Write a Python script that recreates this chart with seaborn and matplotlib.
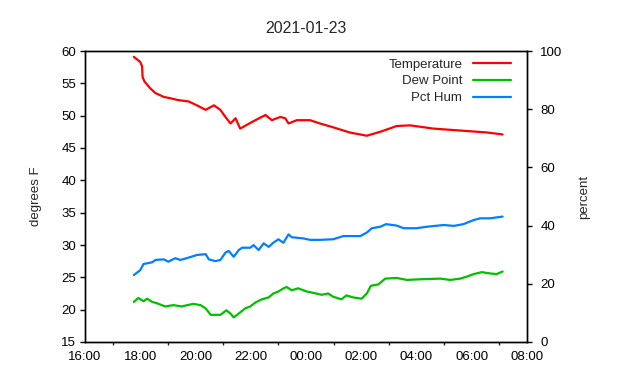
import pandas as pd
import matplotlib
matplotlib.use("Agg")
import matplotlib.pyplot as plt
import matplotlib.dates as mdates
import seaborn as sns

# readings (night of 2021-01-23 -> 24)
temp_times = ["17:46", "18:00", "18:04", "18:05", "18:09", "18:22", "18:33", "18:51",
              "19:05", "19:23", "19:45", "20:03", "20:22", "20:40", "20:54", "21:05",
              "21:16", "21:27", "21:37", "21:52", "22:10", "22:32", "22:46", "23:04",
              "23:15", "23:22", "23:40", "00:09", "00:30", "00:59", "01:35", "02:12",
              "02:41", "03:17", "03:46", "04:37", "05:35", "06:33", "07:07"]
temp_vals = [59.1, 58.3, 57.6, 56.0, 55.3, 54.2, 53.5, 52.9,
             52.7, 52.4, 52.2, 51.6, 50.9, 51.6, 50.9, 49.8,
             48.8, 49.6, 48.0, 48.6, 49.3, 50.1, 49.3, 49.8,
             49.6, 48.8, 49.3, 49.3, 48.8, 48.2, 47.4, 46.9,
             47.5, 48.4, 48.5, 48.0, 47.7, 47.4, 47.1]

dew_times = ["17:46", "17:56", "18:07", "18:15", "18:26", "18:36", "18:54", "19:12",
             "19:30", "19:55", "20:11", "20:22", "20:33", "20:54", "21:07", "21:16",
             "21:23", "21:34", "21:48", "21:59", "22:10", "22:24", "22:39", "22:49",
             "23:00", "23:11", "23:18", "23:29", "23:43", "00:02", "00:16", "00:34",
             "00:48", "00:59", "01:17", "01:28", "01:42", "02:01", "02:12", "02:21",
             "02:37", "02:52", "03:17", "03:39", "04:08", "04:52", "05:13", "05:35",
             "05:49", "06:04", "06:22", "06:40", "06:54", "07:07"]
dew_vals = [21.2, 21.8, 21.3, 21.7, 21.2, 21.0, 20.5, 20.7,
            20.5, 20.9, 20.7, 20.2, 19.2, 19.2, 19.9, 19.4,
            18.8, 19.4, 20.2, 20.5, 21.1, 21.6, 21.9, 22.5,
            22.8, 23.3, 23.5, 23.0, 23.3, 22.8, 22.6, 22.3,
            22.5, 22.0, 21.6, 22.2, 21.9, 21.7, 22.5, 23.7,
            23.9, 24.8, 24.9, 24.6, 24.7, 24.8, 24.6, 24.8,
            25.1, 25.5, 25.8, 25.6, 25.5, 25.9]

hum_times = ["17:46", "18:00", "18:07", "18:26", "18:33", "18:51", "19:01", "19:16",
             "19:27", "19:41", "20:03", "20:22", "20:29", "20:43", "20:54", "21:05",
             "21:12", "21:23", "21:34", "21:41", "21:59", "22:06", "22:17", "22:28",
             "22:39", "22:49", "23:00", "23:11", "23:22", "23:29", "23:54", "00:09",
             "00:30", "00:59", "01:21", "01:58", "02:12", "02:23", "02:41", "02:54",
             "03:17", "03:32", "04:00", "04:22", "04:59", "05:21", "05:42", "06:04",
             "06:18", "06:40", "07:07"]
hum_vals = [23.0, 24.7, 26.8, 27.4, 28.2, 28.4, 27.6, 28.8,
            28.2, 28.8, 29.9, 30.2, 28.4, 27.8, 28.2, 30.7,
            31.3, 29.3, 31.6, 32.4, 32.4, 33.3, 31.6, 33.9,
            32.7, 34.1, 35.3, 34.1, 37.0, 36.0, 35.6, 35.1,
            35.1, 35.3, 36.4, 36.4, 37.6, 39.1, 39.6, 40.5,
            40.0, 39.1, 39.1, 39.6, 40.2, 39.9, 40.5, 41.9,
            42.5, 42.5, 43.1]


def to_stamps(times):
    out = []
    for t in times:
        day = "2021-01-23" if int(t[:2]) >= 12 else "2021-01-24"
        out.append(pd.Timestamp(day + " " + t))
    return out


temp_df = pd.DataFrame({"time": to_stamps(temp_times), "value": temp_vals})
dew_df = pd.DataFrame({"time": to_stamps(dew_times), "value": dew_vals})
hum_df = pd.DataFrame({"time": to_stamps(hum_times), "value": hum_vals})

sns.set_style("white")
plt.rcParams["font.family"] = ["Liberation Sans", "DejaVu Sans"]
plt.rcParams["font.size"] = 9.5

fig = plt.figure(figsize=(6.4, 3.8), dpi=100)
ax = fig.add_axes([85 / 640, 38 / 380, 442 / 640, 291 / 380])
ax2 = ax.twinx()

sns.lineplot(data=temp_df, x="time", y="value", ax=ax, color="#ff0000", lw=1.6, label="Temperature", legend=False)
sns.lineplot(data=dew_df, x="time", y="value", ax=ax, color="#00c000", lw=1.6, label="Dew Point", legend=False)
sns.lineplot(data=hum_df, x="time", y="value", ax=ax2, color="#0080ff", lw=1.6, label="Pct Hum", legend=False)

ax.set_xlim(pd.Timestamp("2021-01-23 16:00"), pd.Timestamp("2021-01-24 08:00"))
ax.set_ylim(15, 60)
ax2.set_ylim(0, 100)
ax.set_yticks(range(15, 61, 5))
ax2.set_yticks(range(0, 101, 20))

ax.xaxis.set_major_locator(mdates.HourLocator(byhour=range(0, 24, 2)))
ax.xaxis.set_minor_locator(mdates.HourLocator())
ax.xaxis.set_major_formatter(mdates.DateFormatter("%H:%M"))

ax.set_xlabel("")
ax.set_ylabel("degrees F", labelpad=14)
ax2.set_ylabel("percent", labelpad=11)
ax.set_title("2021-01-23", pad=13)

for a in (ax, ax2):
    for s in a.spines.values():
        s.set_color("black")
        s.set_linewidth(1.0)
ax.tick_params(axis="both", which="major", direction="out", length=3.5, width=1, colors="black", pad=3)
ax.tick_params(axis="x", which="minor", direction="out", length=2, width=1, bottom=True)
ax2.tick_params(axis="y", direction="out", length=3.5, width=1, colors="black", pad=6)

h1, l1 = ax.get_legend_handles_labels()
h2, l2 = ax2.get_legend_handles_labels()
ax2.legend(h1 + h2, l1 + l2, loc="upper right", bbox_to_anchor=(0.964, 0.975),
           frameon=False, markerfirst=False, handlelength=2.9, handletextpad=0.8,
           labelspacing=0.36, borderaxespad=0, borderpad=0)

fig.savefig("out.png", dpi=100)
